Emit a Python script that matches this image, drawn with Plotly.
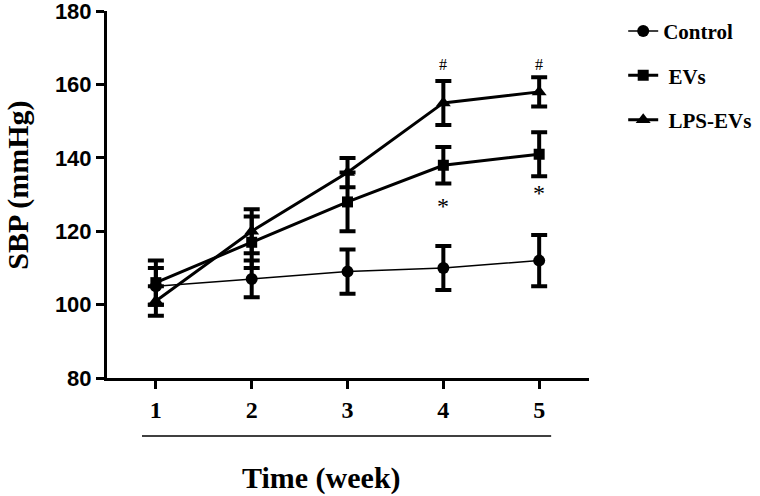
import plotly.graph_objects as go

weeks = [1, 2, 3, 4, 5]
tick_labels = ["1", "2", "3", "4", "5"]
y_ticks = [80, 100, 120, 140, 160, 180]

control_mean = [105, 107, 109, 110, 112]
control_err = [5, 5, 6, 6, 7]
evs_mean = [106, 117, 128, 138, 141]
evs_err = [6, 7, 8, 5, 6]
lps_mean = [101, 120, 136, 155, 158]
lps_err = [4, 6, 4, 6, 4]

hash_weeks = [4, 5]
hash_y = [165.5, 165.5]
star_weeks = [4, 5]
star_y = [127, 130.5]

SERIF = "Liberation Serif, Times New Roman, serif"
SANS = "Liberation Sans, Arial, sans-serif"

fig = go.Figure()

def add_series(name, mean, err, symbol, msize, lw):
    fig.add_trace(go.Scatter(
        x=weeks, y=mean, name=name, mode="lines+markers",
        line=dict(color="black", width=lw),
        marker=dict(symbol=symbol, size=msize, color="black"),
        error_y=dict(type="data", array=err, visible=True, color="black",
                     thickness=4, width=8),
        legendgroup=name,
    ))

add_series("Control", control_mean, control_err, "circle", 12, 1.5)
add_series("\u00a0EVs", evs_mean, evs_err, "square", 11, 3)
add_series("\u00a0LPS-EVs", lps_mean, lps_err, "triangle-up", 13, 3)

annotations = []
for xw, yv in zip(hash_weeks, hash_y):
    annotations.append(dict(x=xw, y=yv, xref="x", yref="y", text="#", showarrow=False,
                            font=dict(family=SERIF, size=16, color="#000000")))
for xw, yv in zip(star_weeks, star_y):
    annotations.append(dict(x=xw, y=yv, xref="x", yref="y", text="*", showarrow=False,
                            font=dict(family=SERIF, size=24, color="#000000")))
annotations.append(dict(x=0.446, y=-0.272, xref="paper", yref="paper", text="Time (week)",
                        showarrow=False, xanchor="center", yanchor="middle",
                        font=dict(family=SERIF, size=30, color="black", weight="bold")))
annotations.append(dict(x=-0.184, y=0.525, xref="paper", yref="paper", text="SBP (mmHg)",
                        showarrow=False, textangle=-90, xanchor="center", yanchor="middle",
                        font=dict(family=SERIF, size=30, color="black", weight="bold")))

fig.update_layout(
    width=760, height=496,
    margin=dict(l=107, r=171, t=11, b=118, autoexpand=False),
    plot_bgcolor="white", paper_bgcolor="white",
    showlegend=True,
    hovermode=False,
    legend=dict(xref="container", yref="container", x=0.82, y=0.978,
                xanchor="left", yanchor="top",
                font=dict(family=SERIF, size=21, color="black", weight="bold"),
                tracegroupgap=14, bgcolor="rgba(0,0,0,0)", itemwidth=30),
    annotations=annotations,
    shapes=[dict(type="line", xref="x", yref="paper", x0=0.855, x1=5.125,
                 y0=-0.158, y1=-0.158, line=dict(color="black", width=1.5))],
)

fig.update_xaxes(range=[0.49, 5.52], tickmode="array", tickvals=weeks, ticktext=tick_labels,
                 showline=True, linecolor="black", linewidth=3, ticks="outside",
                 ticklen=8, tickwidth=3, tickcolor="black", showgrid=False, zeroline=False,
                 automargin=False,
                 tickfont=dict(family=SERIF, size=24, color="black", weight="bold"))
fig.update_yaxes(range=[80, 180.05], tickmode="array", tickvals=y_ticks,
                 ticktext=[str(v) for v in y_ticks], ticklabeloverflow="allow",
                 showline=True, linecolor="black", linewidth=3, ticks="outside",
                 ticklen=8, tickwidth=3, tickcolor="black", showgrid=False, zeroline=False,
                 automargin=False,
                 tickfont=dict(family=SANS, size=22, color="black", weight="bold"))

fig.write_html("out.html", config={"displayModeBar": False},
               post_script="document.body.style.margin='0';document.body.style.padding='0';")
